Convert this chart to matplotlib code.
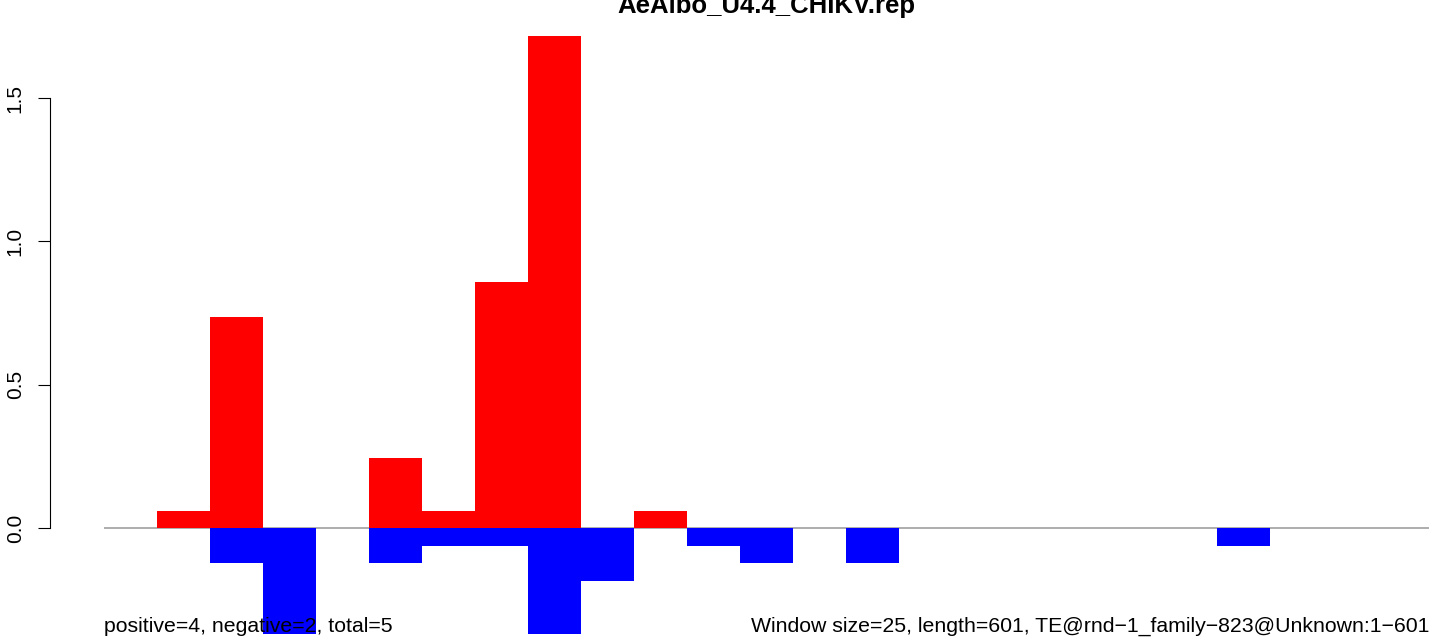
import matplotlib
matplotlib.use('Agg')
import matplotlib.pyplot as plt
import numpy as np

plt.rcParams['font.family'] = ['Liberation Sans', 'DejaVu Sans']

# window values (25 windows of 25 bp over 601 bp)
positive = [0, 0.061, 0.735, 0, 0, 0.245, 0.061, 0.858, 1.715, 0,
            0.061, 0, 0, 0, 0, 0, 0, 0, 0, 0,
            0, 0, 0, 0, 0]
negative = [0, 0, -0.123, -0.368, 0, -0.123, -0.061, -0.061, -0.368, -0.184,
            0, -0.061, -0.123, 0, -0.123, 0, 0, 0, 0, 0,
            0, -0.061, 0, 0, 0]
yticks = [0.0, 0.5, 1.0, 1.5]
ytick_labels = ['0.0', '0.5', '1.0', '1.5']

title = 'AeAlbo_U4.4_CHIKV.rep'
left_note = 'positive=4, negative=2, total=5'
right_note = 'Window size=25, length=601, TE@rnd\u22121_family\u2212823@Unknown:1\u2212601'

W, H = 1429, 639
fig = plt.figure(figsize=(W / 100, H / 100), dpi=100)
ax = fig.add_axes([104 / W, 0, 1 - 104 / W, 1])

n = len(positive)
x = np.arange(n)
ax.bar(x, positive, width=1.0, align='edge', color='#FF0000', linewidth=0, zorder=2)
ax.bar(x, negative, width=1.0, align='edge', color='#0000FF', linewidth=0, zorder=2)
ax.plot([0, n], [0, 0], color='#A0A0A0', lw=1.2, zorder=1)

ax.set_xlim(0, n)
ax.set_ylim(-0.387, 1.842)

for s in ['top', 'right', 'bottom']:
    ax.spines[s].set_visible(False)
ax.spines['left'].set_position(('outward', 39))
ax.spines['left'].set_bounds(0, 1.5)
ax.spines['left'].set_linewidth(0.8)
ax.set_xticks([])
ax.set_yticks(yticks)
ax.set_yticklabels(ytick_labels, rotation=90, va='center', fontsize=15)
ax.tick_params(axis='y', length=9, width=0.8, pad=9)

fig.text(766 / W, 1 - 12.5 / H, title, ha='center', va='baseline',
         fontsize=18.5, fontweight='bold')
fig.text(104 / W, 1 - 632 / H, left_note, ha='left', va='baseline', fontsize=15.3)
fig.text(1.0, 1 - 632 / H, right_note, ha='right', va='baseline', fontsize=15.3)

fig.savefig('out.png', dpi=100)
